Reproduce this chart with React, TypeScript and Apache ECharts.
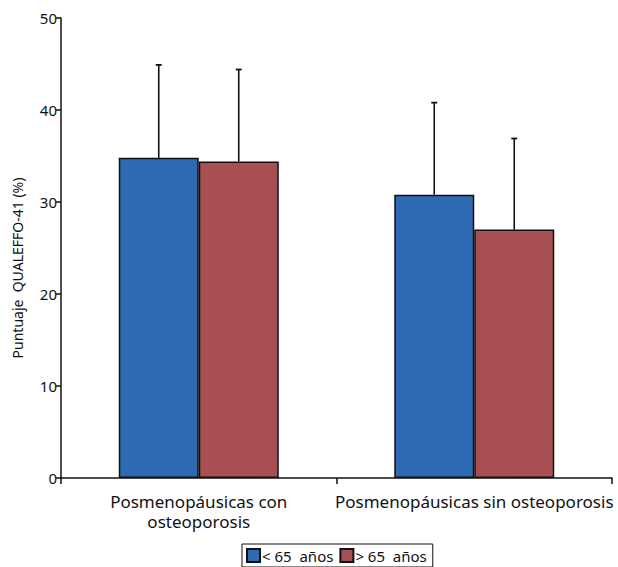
import React, { useEffect, useRef } from "react";
import * as echarts from "echarts";

const categories = ["Posmenopáusicas con\nosteoporosis", "Posmenopáusicas sin osteoporosis"];
const seriesNames = ["< 65  años", "> 65  años"];
const meanUnder65 = [34.8, 30.8];
const meanOver65 = [34.4, 27.0];
const upperUnder65 = [44.9, 40.8];
const upperOver65 = [44.4, 36.9];
const yTicks = { min: 0, max: 50, interval: 10 };
const yTitle = "Puntuaje  QUALEFFO-41 (%)";

const BAR_W = 80;

function errorSeries(means: number[], uppers: number[], offset: number) {
  return {
    type: "custom",
    z: 5,
    silent: true,
    data: means.map((m, i) => [i, m, uppers[i]]),
    renderItem: (params: any, api: any) => {
      const x = api.coord([api.value(0), 0])[0] + offset;
      const yTop = api.coord([api.value(0), api.value(1)])[1];
      const yErr = api.coord([api.value(0), api.value(2)])[1];
      return {
        type: "group",
        children: [
          {
            type: "line",
            shape: { x1: x, y1: yTop, x2: x, y2: yErr },
            style: { stroke: "#111", lineWidth: 1.6 },
          },
          {
            type: "line",
            shape: { x1: x - 3, y1: yErr, x2: x + 3, y2: yErr },
            style: { stroke: "#111", lineWidth: 1.8 },
          },
        ],
      };
    },
  };
}

export default function App() {
  const ref = useRef<HTMLDivElement>(null);
  useEffect(() => {
    const chart = echarts.init(ref.current!, null, { renderer: "svg" });
    const font = "Noto Sans";
    chart.setOption({
      animation: false,
      textStyle: { fontFamily: font },
      grid: { left: 61, right: 6, top: 18, bottom: 89, containLabel: false },
      graphic: [
        {
          type: "text",
          x: 17,
          y: 268,
          rotation: Math.PI / 2,
          style: {
            text: yTitle,
            fontFamily: font,
            fontSize: 14,
            fill: "#111",
            align: "center",
            verticalAlign: "middle",
          },
        },
      ],
      legend: {
        left: 242,
        top: 544,
        orient: "horizontal",
        itemWidth: 13,
        itemHeight: 13,
        itemGap: 6,
        padding: [4, 6, 4, 4],
        borderColor: "#111",
        borderWidth: 1,
        icon: "rect",
        textStyle: { fontFamily: font, fontSize: 15, color: "#111", padding: [0, 0, 0, -3] },
        data: seriesNames,
      },
      xAxis: {
        type: "category",
        data: categories,
        boundaryGap: true,
        axisLine: { lineStyle: { color: "#111", width: 1.5 } },
        axisTick: { show: true, length: 6, lineStyle: { color: "#111", width: 1.5 } },
        axisLabel: { color: "#111", fontSize: 17, margin: 13, lineHeight: 20, interval: 0 },
      },
      yAxis: {
        type: "value",
        min: yTicks.min,
        max: yTicks.max,
        interval: yTicks.interval,
        axisLine: { show: true, lineStyle: { color: "#111", width: 1.5 } },
        axisTick: { show: true, length: 5, lineStyle: { color: "#111", width: 1.5 } },
        axisLabel: { color: "#111", fontSize: 15, margin: 4 },
        splitLine: { show: false },
      },
      series: [
        {
          name: seriesNames[0],
          type: "bar",
          data: meanUnder65,
          barWidth: BAR_W,
          barGap: "0%",
          itemStyle: { color: "#2E69B3", borderColor: "#111", borderWidth: 1.5 },
        },
        {
          name: seriesNames[1],
          type: "bar",
          data: meanOver65,
          barWidth: BAR_W,
          barGap: "0%",
          itemStyle: { color: "#A84F53", borderColor: "#111", borderWidth: 1.5 },
        },
        errorSeries(meanUnder65, upperUnder65, -BAR_W / 2),
        errorSeries(meanOver65, upperOver65, BAR_W / 2),
      ],
    });
    return () => chart.dispose();
  }, []);
  return <div ref={ref} style={{ width: 618, height: 567, position: "absolute", left: 0, top: 0 }} />;
}
